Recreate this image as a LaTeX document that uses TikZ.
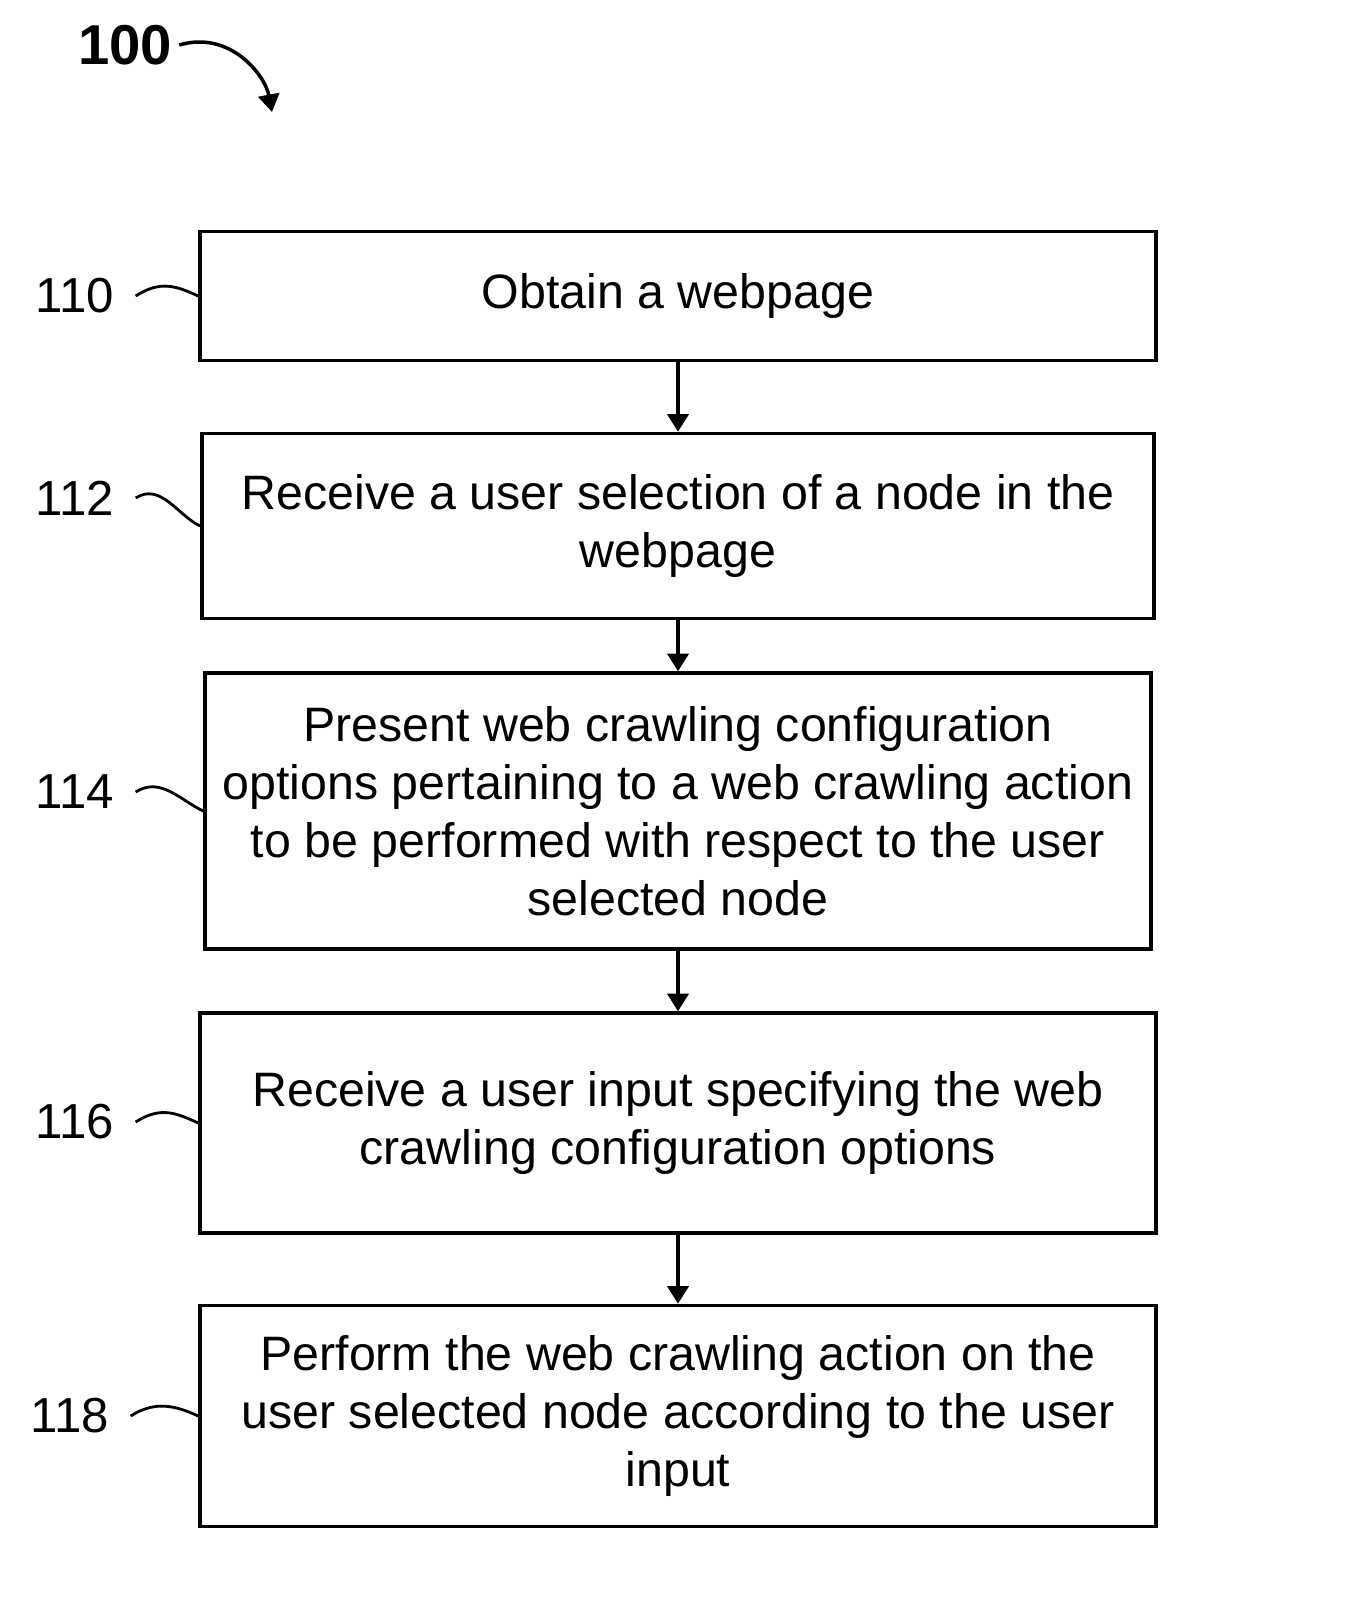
\documentclass[tikz,border=0pt]{standalone}
\usepackage{fontspec}
\setmainfont{Liberation Sans}
\usetikzlibrary{arrows.meta, positioning}
\tikzset{
  stepbox/.style={rectangle, draw=black, line width=2pt, align=center, font=\fontsize{27.5}{33}\selectfont},
  flow/.style={-{Triangle[length=10pt,width=12pt]}, line width=2pt},
  reflabel/.style={font=\fontsize{28}{30}\selectfont, inner sep=0},
  squig/.style={line width=1.6pt}
}
\begin{document}
\begin{tikzpicture}[x=0.02cm, y=-0.02cm]
\useasboundingbox (0,0) rectangle (1345,1601);

% Figure number
\node[font=\bfseries\fontsize{32}{34}\selectfont, inner sep=0] (fig) at (125,45) {100};
\coordinate (figend) at (272,112);
\draw[flow] ([xshift=4pt]fig.east) .. controls (230,30) and (265,75) .. (figend);

% Steps
\node[stepbox, minimum width=956*0.02cm, minimum height=129*0.02cm] (s110) at (678,296) {Obtain a webpage};
\node[stepbox, minimum width=952*0.02cm, minimum height=185*0.02cm] (s112) at (678,526) {Receive a user selection of a node in the\\webpage};
\node[stepbox, minimum width=946*0.02cm, minimum height=276*0.02cm, inner xsep=0pt] (s114) at (678,811) {Present web crawling configuration\\options pertaining to a web crawling action\\to be performed with respect to the user\\selected node};
\node[stepbox, minimum width=956*0.02cm, minimum height=220*0.02cm] (s116) at (678,1123) {Receive a user input specifying the web\\crawling configuration options};
\node[stepbox, minimum width=956*0.02cm, minimum height=221*0.02cm] (s118) at (678,1416) {Perform the web crawling action on the\\user selected node according to the user\\input};

% Arrows
\draw[flow] (s110) -- (s112);
\draw[flow] (s112) -- (s114);
\draw[flow] (s114) -- (s116);
\draw[flow] (s116) -- (s118);

% Reference numerals
\foreach \n/\y/\lx in {110/296/75, 112/498/75, 114/792/75, 116/1122/75, 118/1416/70} {
  \node[reflabel] (l\n) at (\lx,\y) {\n};
  \draw[squig] ([xshift=12pt]l\n.east) .. controls +(25,-16) and +(-22,-10) .. (s\n.west);
}
\end{tikzpicture}
\end{document}
